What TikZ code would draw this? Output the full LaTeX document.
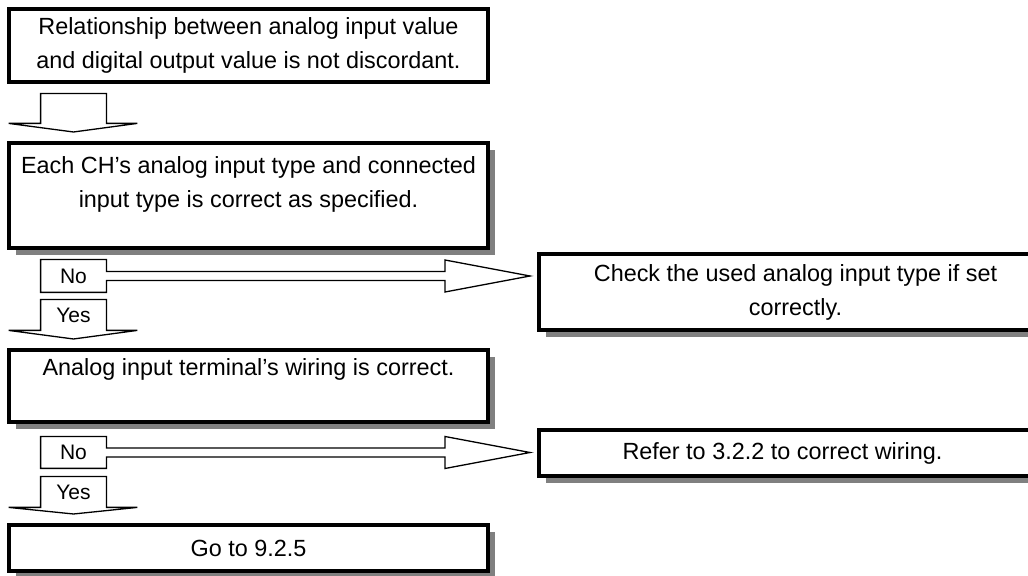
\documentclass[tikz,border=0pt]{standalone}
\usepackage{fontspec}
\setmainfont{Liberation Sans}
\usepackage{tikz}
\usetikzlibrary{calc, shadows, backgrounds}
\definecolor{cShadow}{RGB}{128,128,128}
\newcommand{\boxsize}{\fontsize{11.7}{17}\selectfont}
\newcommand{\tagsize}{\fontsize{10.5}{12}\selectfont}
\tikzset{
	stepbox/.style  ={rectangle, draw=black, line width=2pt, fill=white, inner sep=0pt, align=center},
	shadowbox/.style={stepbox, drop shadow={shadow xshift=3.5pt, shadow yshift=-3.5pt, opacity=1, fill=cShadow}},
	fatarrow/.style ={draw=black, line width=0.65pt, fill=white, line join=miter},
	tag/.style      ={rectangle, inner sep=0pt, minimum width=32.5pt, font=\tagsize},
}
\begin{document}
\begin{tikzpicture}[x=0.5pt, y=-0.5pt, font=\boxsize]
	\clip (0,0) rectangle (1028,576);
	% main column
	\node[stepbox, minimum width=239.5pt, minimum height=36.5pt] (b1) at (248.5,45.5) {Relationship between analog input value\\and digital output value is not discordant.};
	\node[shadowbox, minimum width=239.5pt, minimum height=52.5pt] (b2) at (248.5,195.5) {};
	\node[align=center] (t2) at ($(b2.north)+(0,43.5)$) {Each CH’s analog input type and connected\\input type is correct as specified.};
	\node[shadowbox, minimum width=239.5pt, minimum height=36pt] (b3) at (248.5,386) {};
	\node (t3) at ($(b3.north)+(0,21)$) {Analog input terminal’s wiring is correct.};
	\node[shadowbox, minimum width=239.5pt, minimum height=23pt] (b4) at (248.5,548) {Go to 9.2.5};
	% right column
	\node[shadowbox, minimum width=256.5pt, minimum height=38pt] (r1) at (795.5,292) {Check the used analog input type if set\\correctly.};
	\node[shadowbox, minimum width=256.5pt, minimum height=23pt] (r2) at (795.5,453) {};
	\node (t6) at ($(r2.center)+(-13,0)$) {Refer to 3.2.2 to correct wiring.};
	% block arrows
	\node[tag, minimum height=14.5pt] (dn1) at (73.5,108.5) {};
	\node[tag, minimum height=16pt] (no1) at (73.5,276) {No};
	\node[tag, minimum height=15pt] (yes1) at (73.5,315) {Yes};
	\node[tag, minimum height=15.5pt] (no2) at (73.5,452.5) {No};
	\node[tag, minimum height=15pt] (yes2) at (73.5,492) {Yes};
	\begin{scope}[on background layer]
		\foreach \n/\b in {dn1/b2, yes1/b3, yes2/b4}
			\draw[fatarrow] (\n.south west) -- (\n.north west) -- (\n.north east) -- (\n.south east) -- ++(31,0) -- ($(\b.north -| \n.south)+(0,-9)$) -- ($(\n.south west)+(-32,0)$) -- cycle;
		\foreach \n/\r in {no1/r1, no2/r2} {
			\coordinate (tip) at ($(\r.west |- \n.east)+(-7,0)$);
			\draw[fatarrow] ($(\n.east)+(0,-4.5)$) -- (\n.north east) -- (\n.north west) -- (\n.south west) -- (\n.south east) -- ($(\n.east)+(0,4.5)$) -- ($(tip)+(-85,4.5)$) -- ($(tip)+(-85,16)$) -- (tip) -- ($(tip)+(-85,-16)$) -- ($(tip)+(-85,-4.5)$) -- cycle;
		}
	\end{scope}
\end{tikzpicture}
\end{document}
